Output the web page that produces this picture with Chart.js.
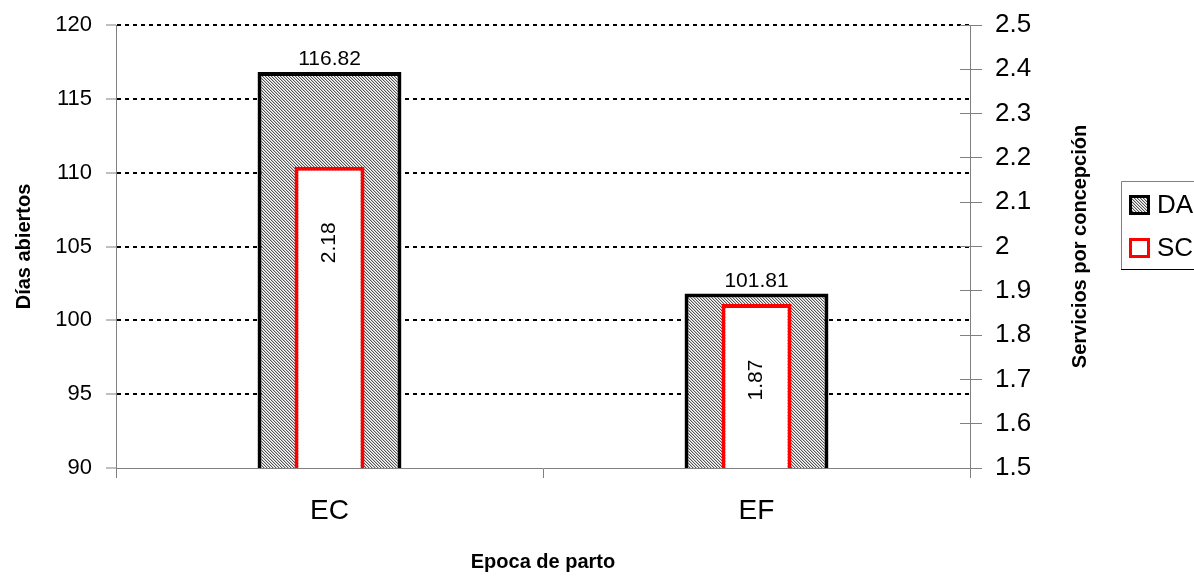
<!DOCTYPE html>
<html>
<head>
<meta charset="utf-8">
<script src="https://cdn.jsdelivr.net/npm/chart.js@4.4.1/dist/chart.umd.min.js"></script>
<style>
  html, body { margin: 0; padding: 0; background: #ffffff; }
  #wrap { width: 1194px; height: 581px; position: relative; }
</style>
</head>
<body>
<div id="wrap"><canvas id="chart" width="1194" height="581"></canvas></div>
<script>
// Categories and series
const categories = ['EC', 'EF'];
const diasAbiertos = [116.82, 101.81];
const serviciosConcepcion = [2.18, 1.87];
const seriesNames = ['DA', 'SC'];

// Axis ranges: [min, max, step]
const leftAxisRange = [90, 120, 5];
const rightAxisRange = [1.5, 2.5, 0.1];

// Axis titles: x, left y, right y
const axisTitles = ['Epoca de parto', 'Días abiertos', 'Servicios por concepción'];

const FONT = "'Liberation Sans', Arial, Helvetica, sans-serif";
const AXIS_GREY = '#808080';

Chart.defaults.font.family = FONT;
Chart.defaults.color = '#000000';

// Fine diagonal hatch used for the DA bars
function makeHatch() {
  const tile = document.createElement('canvas');
  tile.width = 3; tile.height = 3;
  const t = tile.getContext('2d');
  t.fillStyle = '#ffffff';
  t.fillRect(0, 0, 3, 3);
  for (let i = 0; i < 3; i++) {
    t.fillStyle = '#555555';
    t.fillRect(i, i, 1, 1);
    t.fillStyle = '#c4c4c4';
    t.fillRect((i + 1) % 3, i, 1, 1);
  }
  return document.getElementById('chart').getContext('2d').createPattern(tile, 'repeat');
}
const hatch = makeHatch();

function alignPx(v) { return Math.round(v - 0.5) + 0.5; }

// Vertical axes: fixed width, no extra room reserved for the end labels
function fixVertical(width) {
  return s => { s.width = width; s.paddingTop = 0; s.paddingBottom = 0; };
}

const decorations = {
  id: 'decorations',
  afterDatasetsDraw(chart) {
    const ctx = chart.ctx;
    ctx.save();
    ctx.fillStyle = '#000000';
    // value labels above the DA bars
    ctx.font = '21px ' + FONT;
    ctx.textAlign = 'center';
    ctx.textBaseline = 'alphabetic';
    chart.getDatasetMeta(0).data.forEach((bar, i) => {
      ctx.fillText(diasAbiertos[i].toFixed(2), bar.x, bar.y - 7);
    });
    // rotated value labels inside the SC bars
    chart.getDatasetMeta(1).data.forEach((bar, i) => {
      const mid = (bar.y + bar.base) / 2;
      const cy = Math.min(mid, bar.y + 76);
      ctx.save();
      ctx.translate(bar.x, cy);
      ctx.rotate(-Math.PI / 2);
      ctx.textAlign = 'center';
      ctx.textBaseline = 'middle';
      ctx.fillText(serviciosConcepcion[i].toFixed(2), 0, 0);
      ctx.restore();
    });
    ctx.restore();
  },
  afterDraw(chart) {
    const ctx = chart.ctx;
    const y2 = chart.scales.y2;
    ctx.save();
    // inner tick marks on the right axis
    ctx.strokeStyle = AXIS_GREY;
    ctx.lineWidth = 1;
    y2.ticks.forEach(t => {
      const py = alignPx(y2.getPixelForValue(t.value));
      ctx.beginPath();
      ctx.moveTo(y2.left - 10, py);
      ctx.lineTo(y2.left, py);
      ctx.stroke();
    });
    // right axis title, reading upward
    ctx.fillStyle = '#000000';
    ctx.font = 'bold 20px ' + FONT;
    ctx.translate(1080, (chart.chartArea.top + chart.chartArea.bottom) / 2);
    ctx.rotate(-Math.PI / 2);
    ctx.textAlign = 'center';
    ctx.textBaseline = 'middle';
    ctx.fillText(axisTitles[2], 0, 0);
    ctx.restore();

    // legend
    ctx.save();
    ctx.fillStyle = '#ffffff';
    ctx.fillRect(1121, 181, 100, 89);
    ctx.strokeStyle = AXIS_GREY;
    ctx.lineWidth = 1;
    ctx.beginPath();
    ctx.moveTo(1200, 181.5); ctx.lineTo(1121.5, 181.5); ctx.lineTo(1121.5, 270);
    ctx.stroke();
    ctx.strokeStyle = '#000000';
    ctx.beginPath();
    ctx.moveTo(1121, 269.5); ctx.lineTo(1200, 269.5);
    ctx.stroke();

    const ds = chart.data.datasets;
    const rows = [205, 248];
    ds.forEach((d, i) => {
      const cy = rows[i];
      ctx.fillStyle = d.backgroundColor;
      ctx.fillRect(1129, cy - 10, 21, 20);
      ctx.strokeStyle = d.borderColor;
      ctx.lineWidth = 3;
      ctx.strokeRect(1130.5, cy - 8.5, 18, 17);
      ctx.fillStyle = '#000000';
      ctx.font = '26px ' + FONT;
      ctx.textAlign = 'left';
      ctx.textBaseline = 'middle';
      ctx.fillText(d.label, 1157, cy + 1);
    });
    ctx.restore();
  }
};

new Chart(document.getElementById('chart'), {
  type: 'bar',
  data: {
    labels: categories,
    datasets: [
      {
        label: seriesNames[0],
        data: diasAbiertos,
        yAxisID: 'y',
        backgroundColor: hatch,
        borderColor: '#000000',
        borderWidth: 4,
        grouped: false,
        categoryPercentage: 1,
        barPercentage: 0.337,
        order: 1
      },
      {
        label: seriesNames[1],
        data: serviciosConcepcion,
        yAxisID: 'y2',
        backgroundColor: '#ffffff',
        borderColor: '#ff0000',
        borderWidth: 4,
        grouped: false,
        categoryPercentage: 1,
        barPercentage: 0.164,
        order: 0
      }
    ]
  },
  options: {
    responsive: false,
    animation: false,
    devicePixelRatio: 1,
    layout: { padding: { left: 0, right: 94, top: 25, bottom: 0 } },
    plugins: {
      legend: { display: false },
      tooltip: { enabled: false }
    },
    scales: {
      x: {
        offset: true,
        grid: {
          offset: true,
          drawOnChartArea: false,
          drawTicks: true,
          tickLength: 10,
          tickColor: AXIS_GREY,
          tickWidth: 1
        },
        border: { color: AXIS_GREY, width: 1 },
        ticks: { font: { size: 28 }, color: '#000000', padding: 16, maxRotation: 0 },
        title: {
          display: true,
          text: axisTitles[0],
          font: { size: 20, weight: 'bold' },
          color: '#000000',
          padding: { top: 0, bottom: 7 }
        },
        afterFit(s) { s.height = 113; }
      },
      y: {
        position: 'left',
        min: leftAxisRange[0],
        max: leftAxisRange[1],
        ticks: { stepSize: leftAxisRange[2], font: { size: 22 }, color: '#000000', padding: 14 },
        grid: {
          color: c => (c.tick && c.tick.value === leftAxisRange[0]) ? 'rgba(0,0,0,0)' : '#000000',
          lineWidth: 2,
          tickLength: 10,
          tickColor: AXIS_GREY,
          tickWidth: 1
        },
        border: { color: AXIS_GREY, width: 1, dash: [4, 4] },
        title: {
          display: true,
          text: axisTitles[1],
          font: { size: 20, weight: 'bold' },
          color: '#000000',
          padding: { top: 12, bottom: 0 }
        },
        afterFit: fixVertical(116)
      },
      y2: {
        position: 'right',
        min: rightAxisRange[0],
        max: rightAxisRange[1],
        ticks: {
          stepSize: rightAxisRange[2],
          font: { size: 26 },
          color: '#000000',
          padding: 13,
          callback: v => String(Math.round(v * 10) / 10)
        },
        grid: {
          drawOnChartArea: false,
          tickLength: 12,
          tickColor: AXIS_GREY,
          tickWidth: 1
        },
        border: { color: AXIS_GREY, width: 1 },
        afterFit: fixVertical(130)
      }
    }
  },
  plugins: [decorations]
});
</script>
</body>
</html>
